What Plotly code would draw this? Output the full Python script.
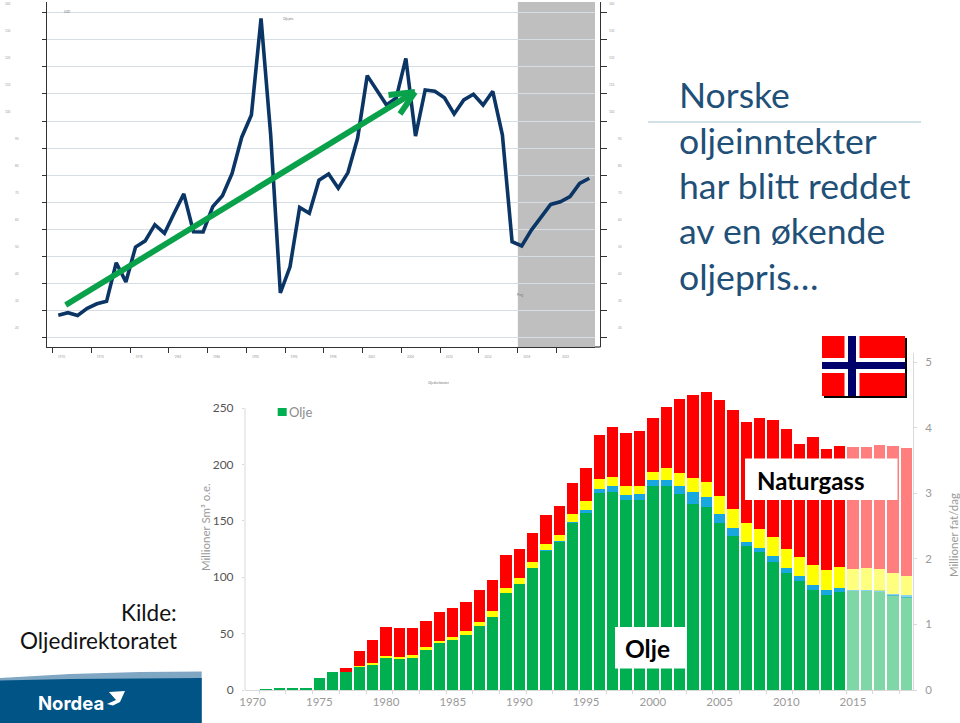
import plotly.graph_objects as go

W, H = 960, 723

# top chart: price line
perioder = list(range(56))
pris = [28.1, 29.0, 28.0, 30.6, 32.3, 33.2, 47.5, 40.4, 53.3, 55.6, 61.6, 58.4, 65.8, 73.0,
        59.0, 58.9, 68.3, 72.3, 80.6, 94.0, 102.2, 138.0, 94.8, 36.3, 46.0, 68.0, 65.8, 78.1,
        80.4, 75.1, 80.9, 93.6, 116.8, 111.5, 105.9, 108.5, 123.2, 94.4, 111.5, 111.0, 108.6,
        102.6, 107.8, 109.9, 105.9, 111.0, 94.8, 55.3, 53.7, 59.6, 64.6, 69.1, 70.1, 72.0,
        76.9, 78.8]
pris_ticks = [20, 30, 40, 50, 60, 70, 80, 90, 100, 110, 120, 130, 140]
periode_ticks = [-0.6, 3.42, 7.43, 11.45, 15.46, 19.48, 23.49, 27.51, 31.52, 35.54, 39.55, 43.57, 47.58, 51.6]
periode_labels = ["1970", "1974", "1978", "1982", "1986", "1990", "1994", "1998", "2002", "2006",
                  "2010", "2014", "2018", "2022"]

# bottom chart: production stacked by product
aar = list(range(1970, 2020))
olje = [0, 0.6, 1.6, 1.6, 1.6, 11, 16, 16.3, 20.7, 22.8, 28.1, 27.8, 28.4, 35.5, 41.4, 44.6, 48.8,
        57, 64.4, 86, 94.3, 108.5, 123.5, 131.8, 148.3, 156.6, 174.9, 175.8, 168.4, 168.4, 180.9,
        180.6, 173.8, 164.9, 162.5, 148.3, 136.5, 127.7, 122, 113.8, 103.4, 96.9, 88.7, 84.2, 87.2,
        87.8, 87.8, 87.2, 84.2, 82.2]
ngl = [0] * 22 + [0.6, 0.6, 0.9, 3, 3.6, 5.1, 4.5, 5.4, 5.3, 5.6, 6.8, 10.3, 8.3, 7.4, 7.4, 3.5, 4.2,
                  5.3, 4.8, 4.5, 4.7, 4.2, 3.5, 0.6, 0.6, 0.6, 0.9, 1.7]
kondensat = [0, 0, 0, 0, 0, 0, 0, 0, 0.6, 0.8, 2.0, 1.8, 2.3, 2.6, 2.0, 2.7, 3.8, 3.6, 5.3, 4.7, 5.3,
             5.3, 5, 5, 6.5, 8, 8.9, 8.2, 8, 7.1, 7.4, 10.9, 11.5, 13, 13.6, 16, 16.3, 17.1, 16.2,
             16.8, 16.5, 16.5, 17.7, 17.7, 18.6, 19.2, 19.5, 19.2, 18.3, 17.5]
gass = [0, 0, 0, 0, 0, 0, 0, 2.9, 13.6, 20.7, 26.0, 25.1, 24.0, 23.4, 25.7, 25.7, 25.7, 28.3, 28.1,
        29.0, 25.7, 25.1, 26, 25.7, 27.5, 29.2, 38.4, 44.4, 46.9, 48.7, 47.2, 54.1, 65.6, 73, 79.5,
        85.4, 88.3, 89.6, 99, 103.5, 106.7, 100.5, 113.2, 107.3, 107, 107.8, 107.5, 109.9, 113.2, 113.1]
opasitet = [1.0 if a <= 2014 else 0.5 for a in aar]

TITLE_BLUE = "#1f5078"
GREY_TXT = "#9a9a9a"
SANS = "Lato, Carlito, sans-serif"


def px(x):
    return x / W


def py(y):
    return 1 - y / H


fig = go.Figure()

fig.add_trace(go.Scatter(x=perioder, y=pris, mode="lines", line=dict(color="#0b3565", width=3.6),
                         xaxis="x", yaxis="y", hoverinfo="skip"))

for vals, color in [(olje, "#00b050"), (ngl, "#18a8e0"), (kondensat, "#ffff00"), (gass, "#ff0000")]:
    fig.add_trace(go.Bar(x=aar, y=vals, marker=dict(color=color, opacity=opasitet, line_width=0),
                         xaxis="x2", yaxis="y2", hoverinfo="skip"))

# invisible trace so the right-hand scale on the bottom chart is drawn
fig.add_trace(go.Scatter(x=[aar[0]], y=[0], mode="markers", marker_opacity=0,
                         xaxis="x2", yaxis="y3", hoverinfo="skip"))
# same for the right-hand scale on the top chart
fig.add_trace(go.Scatter(x=[perioder[0]], y=[pris[0]], mode="markers", marker_opacity=0,
                         xaxis="x", yaxis="y4", hoverinfo="skip"))

AX = "#333333"
fig.update_layout(
    width=W, height=H, margin=dict(l=0, r=0, t=0, b=0, autoexpand=False), paper_bgcolor="white",
    plot_bgcolor="rgba(0,0,0,0)", showlegend=False, barmode="stack", bargap=0.15,
    xaxis=dict(domain=[px(47), px(595)], range=[-1.17, 55.59], anchor="y", tickmode="array",
               tickvals=periode_ticks, ticktext=periode_labels, ticks="outside", ticklen=5, tickwidth=1.2,
               tickcolor=AX, showgrid=False, showline=True, linecolor=AX, linewidth=1.2, zeroline=False,
               tickfont=dict(size=3, color="#999999", family=SANS), ticklabelshift=9, ticklabelstandoff=1),
    yaxis=dict(domain=[py(347), py(2)], range=[16.3, 144.07], anchor="x", tickvals=pris_ticks,
               ticks="outside", ticklen=4, tickwidth=1.2, tickcolor=AX, showticklabels=False,
               showgrid=True, gridcolor="#d6dee3", gridwidth=1.3, showline=True, linecolor=AX,
               linewidth=1.2, zeroline=False),
    yaxis4=dict(overlaying="y", side="right", anchor="free", position=px(600), range=[16.3, 144.07],
                tickvals=pris_ticks, ticks="outside", ticklen=6, tickwidth=1.2, tickcolor=AX,
                showticklabels=False, showgrid=False, showline=True, linecolor=AX, linewidth=1.2,
                zeroline=False),
    xaxis2=dict(domain=[px(245), px(913)], range=[1969.43, 2019.5], anchor="y2", tickvals=list(range(1970, 2016, 5)),
                ticks="", showgrid=False, showline=True, linecolor="#d9d9d9", linewidth=1, zeroline=False,
                tickfont=dict(size=11.5, color=GREY_TXT, family=SANS), ticklabelstandoff=1,
                minor=dict(tick0=1970.5, dtick=2, ticks="outside", ticklen=3, tickcolor="#d9d9d9")),
    yaxis2=dict(domain=[py(690), py(353)], range=[0, 337 / 1.128], anchor="x2", tickvals=[0, 50, 100, 150, 200, 250],
                ticks="outside", ticklen=2, tickcolor="#d9d9d9", showgrid=False, showline=False,
                zeroline=False, tickfont=dict(size=12, color="#555555", family=SANS), ticklabelstandoff=6),
    yaxis3=dict(range=[0, 337 / 65.55], anchor="x2", side="right", overlaying="y2",
                tick0=0, dtick=1, ticks="outside", ticklen=3, tickcolor="#d9d9d9", showgrid=False, showline=True,
                linecolor="#d9d9d9", linewidth=1, zeroline=False,
                tickfont=dict(size=11.5, color=GREY_TXT, family=SANS), ticklabelstandoff=6),
)

shapes = []


def rect(x0, y0, x1, y1, fill, layer="above"):
    shapes.append(dict(type="rect", xref="paper", yref="paper", x0=px(x0), x1=px(x1), y0=py(y0), y1=py(y1),
                       fillcolor=fill, line_width=0, layer=layer))


def seg(x0, y0, x1, y1, color, width):
    shapes.append(dict(type="line", xref="paper", yref="paper", x0=px(x0), x1=px(x1), y0=py(y0), y1=py(y1),
                       line=dict(color=color, width=width), layer="above"))


def poly(points, fill):
    d = "M " + " L ".join(f"{px(x):.5f},{py(y):.5f}" for x, y in points) + " Z"
    shapes.append(dict(type="path", xref="paper", yref="paper", path=d, fillcolor=fill, line_width=0, layer="above"))


# forecast band on the top chart
shapes.append(dict(type="rect", xref="x", yref="paper", x0=47.6, x1=55.59, y0=py(347), y1=py(2),
                   fillcolor="#bfbfbf", line_width=0, layer="below"))
seg(595, 347, 600.5, 347, AX, 1.2)

# left scale line of the bottom chart only reaches 250
seg(245, 408, 245, 690, "#d9d9d9", 1)

# green trend arrow
seg(65.7, 305, 412, 93.5, "#0aa14b", 5.8)
seg(388.5, 95, 415, 92, "#0aa14b", 5.8)
seg(400, 114, 415, 92, "#0aa14b", 5.8)

# rule under the heading
seg(648, 122, 921, 122, "#a4c3d1", 1)

# flag
rect(824, 338, 907, 398, "#000000")
rect(822, 336, 905, 396, "#ff0000")
rect(844.5, 336, 859.5, 396, "#ffffff")
rect(822, 358, 905, 373, "#ffffff")
rect(848, 336, 856, 396, "#00006b")
rect(822, 362, 905, 369, "#00006b")

# label boxes
rect(745, 458.5, 897.5, 500, "#ffffff")
rect(615, 627, 686, 668.5, "#ffffff")

# legend swatch
rect(277.7, 408, 286.7, 416, "#00b050")

# Nordea footer
poly([(0, 678), (70, 674), (140, 672), (201.7, 671.5), (201.7, 723), (0, 723)], "#7fa6c2")
poly([(0, 680.5), (70, 679), (140, 678.5), (201.7, 678), (201.7, 723), (0, 723)], "#005486")
poly([(109, 692), (125, 691), (120, 702), (113, 705.5), (107, 704), (116, 700)], "#ffffff")

fig.update_layout(shapes=shapes)

annos = []


def txt(x, y, s, size, color, anchor="left", family=SANS, textangle=0):
    annos.append(dict(xref="paper", yref="paper", x=px(x), y=py(y), text=s, showarrow=False, xanchor=anchor,
                      yanchor="middle", font=dict(size=size, color=color, family=family), textangle=textangle,
                      borderpad=0))


for i, line in enumerate(["Norske", "oljeinntekter", "har blitt reddet", "av en økende", "oljepris…"]):
    txt(677.5, 95 + i * 45.3, line, 35.6, TITLE_BLUE)

txt(178, 612, "Kilde:", 22.5, "#111111", "right")
txt(178, 640, "Oljedirektoratet", 22.5, "#111111", "right")
txt(810, 480, "<b>Naturgass</b>", 24, "#000000", "center")
txt(647, 648, "<b>Olje</b>", 24.5, "#000000", "center")
txt(288, 412, "Olje", 13, "#8c8c8c")
txt(205, 527, "Millioner Sm³ o.e.", 11.5, GREY_TXT, "center", textangle=-90)
txt(953, 535, "Millioner fat/dag", 11.5, GREY_TXT, "center", textangle=-90)
txt(70.5, 703, "<b>Nordea</b>", 18.5, "#ffffff", "center", family="Inter, Lato, sans-serif")

# tiny captions, as faint as the source
txt(67, 12, "USD", 3, "#777777", "center")
txt(288, 19, "Oljepris", 3, "#777777", "center")
txt(520, 295, "Prog.", 3, "#777777", "center")
txt(439, 383, "Oljedirektoratet", 3, "#777777", "center")

# tick labels of the top chart sit apart from the axis, wider ones further out
for v in pris_ticks:
    left = 7.5 if v >= 100 else 17
    right = 611 if v >= 100 else 620
    for x in (left, right):
        annos.append(dict(xref="paper", yref="y", x=px(x), y=v, yshift=9, text=str(v), showarrow=False,
                          xanchor="center", yanchor="middle", font=dict(size=3, color="#999999", family=SANS)))

fig.update_layout(annotations=annos)

fig.write_html("out.html", config={"displayModeBar": False},
               post_script="document.body.style.margin='0';document.body.style.overflow='hidden';")
